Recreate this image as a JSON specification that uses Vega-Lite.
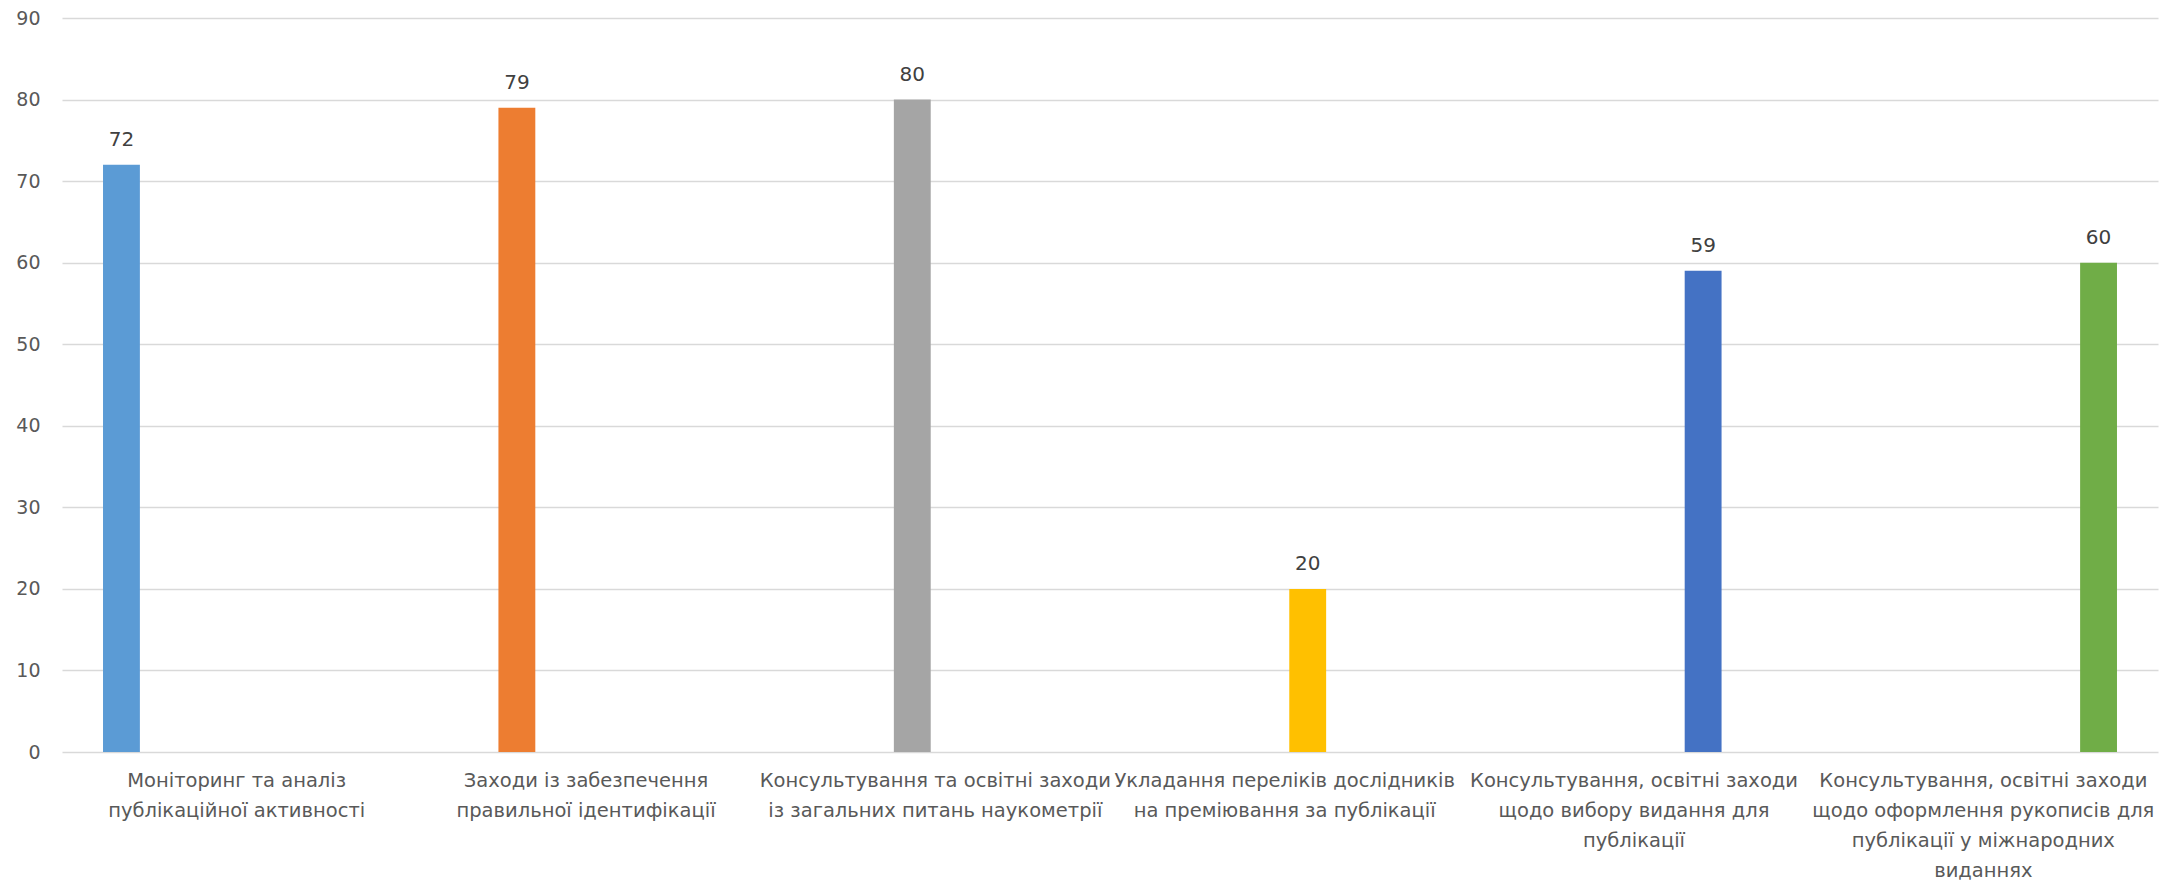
{
  "$schema": "https://vega.github.io/schema/vega-lite/v6.json",
  "width": 2096,
  "height": 734,
  "autosize": {"type": "none"},
  "padding": {"left": 62, "top": 18, "right": 26, "bottom": 129},
  "background": "white",
  "config": {"view": {"stroke": null}},
  "data": {
    "values": [
      {"category": "Моніторинг та аналіз|публікаційної активності", "value": 72, "order": 1},
      {"category": "Заходи із забезпечення|правильної ідентифікації", "value": 79, "order": 2},
      {"category": "Консультування та освітні заходи|із загальних питань наукометрії", "value": 80, "order": 3},
      {"category": "Укладання переліків дослідників|на преміювання за публікації", "value": 20, "order": 4},
      {"category": "Консультування, освітні заходи|щодо вибору видання для|публікації", "value": 59, "order": 5},
      {"category": "Консультування, освітні заходи|щодо оформлення рукописів для|публікації у міжнародних|виданнях", "value": 60, "order": 6}
    ]
  },
  "encoding": {
    "x": {
      "field": "category",
      "type": "nominal",
      "sort": {"field": "order"},
      "scale": {"paddingInner": 0, "paddingOuter": 0},
      "axis": {
        "title": null,
        "labelAngle": 0,
        "labelExpr": "split(datum.value, '|')",
        "labelFont": "DejaVu Sans",
        "labelFontSize": 19.5,
        "labelColor": "#595959",
        "labelLineHeight": 30,
        "labelPadding": 19,
        "labelLimit": 400,
        "ticks": false,
        "domain": false,
        "grid": false
      }
    },
    "xOffset": {
      "field": "category",
      "type": "nominal",
      "sort": {"field": "order"},
      "scale": {"paddingInner": 0.2, "paddingOuter": 0.89}
    },
    "y": {
      "field": "value",
      "type": "quantitative",
      "scale": {"domain": [0, 90], "nice": false},
      "axis": {
        "title": null,
        "values": [0, 10, 20, 30, 40, 50, 60, 70, 80, 90],
        "labelFont": "DejaVu Sans",
        "labelFontSize": 19,
        "labelColor": "#595959",
        "labelPadding": 22,
        "ticks": false,
        "domain": false,
        "gridColor": "#D9D9D9",
        "gridWidth": 1.5
      }
    }
  },
  "layer": [
    {
      "mark": {"type": "bar"},
      "encoding": {
        "color": {
          "field": "category",
          "type": "nominal",
          "sort": {"field": "order"},
          "scale": {"range": ["#5B9BD5", "#ED7D31", "#A5A5A5", "#FFC000", "#4472C4", "#70AD47"]},
          "legend": null
        }
      }
    },
    {
      "mark": {"type": "text", "baseline": "alphabetic", "dy": -19, "font": "DejaVu Sans", "fontSize": 20, "color": "#404040"},
      "encoding": {"text": {"field": "value", "type": "quantitative"}}
    }
  ]
}
